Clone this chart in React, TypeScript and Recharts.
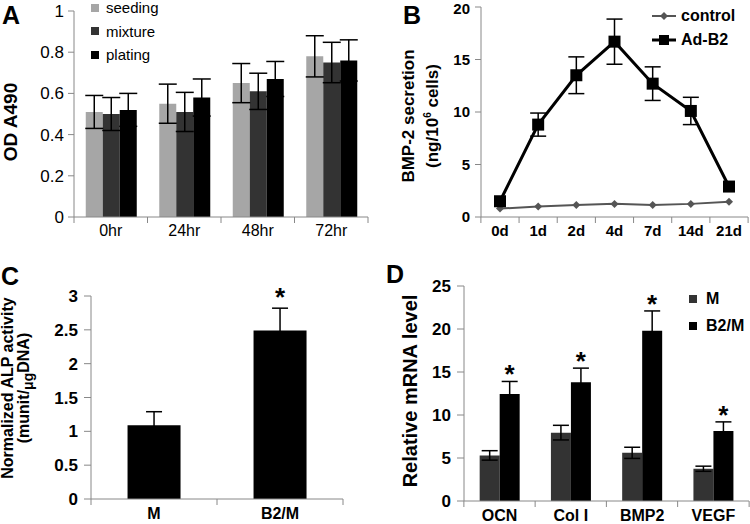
import React from "react";
import {
  BarChart, Bar, LineChart, Line, XAxis, YAxis, ErrorBar, LabelList,
} from "recharts";

// Panel A - cell proliferation
const hoursA = ["0hr", "24hr", "48hr", "72hr"];
const seeding = [0.51, 0.55, 0.65, 0.78];
const seedingErr = [0.08, 0.095, 0.095, 0.1];
const mixture = [0.5, 0.51, 0.61, 0.75];
const mixtureErr = [0.08, 0.095, 0.088, 0.098];
const plating = [0.52, 0.58, 0.67, 0.76];
const platingErr = [0.08, 0.09, 0.085, 0.1];
const ticksA = [0, 0.2, 0.4, 0.6, 0.8, 1];

// Panel B - BMP-2 secretion
const daysB = ["0d", "1d", "2d", "4d", "7d", "14d", "21d"];
const control = [0.8, 1.0, 1.15, 1.25, 1.15, 1.25, 1.45];
const adB2 = [1.5, 8.8, 13.5, 16.7, 12.7, 10.1, 2.9];
const adB2Err = [0, 1.1, 1.75, 2.15, 1.6, 1.3, 0];
const ticksB = [0, 5, 10, 15, 20];

// Panel C - ALP activity
const groupsC = ["M", "B2/M"];
const alp = [1.09, 2.49];
const alpErr = [0.2, 0.33];
const alpStar = ["", "*"];
const ticksC = [0, 0.5, 1, 1.5, 2, 2.5, 3];

// Panel D - relative mRNA
const genesD = ["OCN", "Col I", "BMP2", "VEGF"];
const mLevel = [5.3, 7.95, 5.6, 3.75];
const mErr = [0.55, 0.85, 0.65, 0.3];
const b2mLevel = [12.45, 13.8, 19.8, 8.15];
const b2mErr = [1.45, 1.65, 2.3, 1.05];
const starsD = ["*", "*", "*", "*"];
const ticksD = [0, 5, 10, 15, 20, 25];

const FONT = "'Liberation Sans', Arial, sans-serif";
const AXIS = "#888";

const dataA = hoursA.map((h, i) => ({
  name: h, seeding: seeding[i], seedingErr: seedingErr[i],
  mixture: mixture[i], mixtureErr: mixtureErr[i],
  plating: plating[i], platingErr: platingErr[i],
}));
const dataB = daysB.map((d, i) => ({
  name: d, control: control[i], adB2: adB2[i], adB2Err: adB2Err[i],
}));
const dataC = groupsC.map((g, i) => ({ name: g, alp: alp[i], alpErr: alpErr[i], star: alpStar[i] }));
const dataD = genesD.map((g, i) => ({
  name: g, m: mLevel[i], mErr: mErr[i], b2m: b2mLevel[i], b2mErr: b2mErr[i], star: starsD[i],
}));

// x tick with label at category centre and tick marks at category edges (Excel style)
function EdgeTick(props: any) {
  const { x, y, payload, index, half, count, fontSize, fontWeight, dy } = props;
  return (
    <g>
      <line x1={x - half} x2={x - half} y1={y} y2={y + 6} stroke={AXIS} />
      {index === count - 1 && <line x1={x + half} x2={x + half} y1={y} y2={y + 6} stroke={AXIS} />}
      <text x={x} y={y + dy} textAnchor="middle" fontSize={fontSize} fontWeight={fontWeight}
        fontFamily={FONT} fill="#000">{payload.value}</text>
    </g>
  );
}

function Star(errs: number[], vals: number[], gap: number) {
  return (props: any) => {
    const { x, y, width, height, index, value } = props;
    if (!value) return null;
    const errPx = (errs[index] * height) / vals[index];
    return (
      <text x={x + width / 2} y={y - errPx - gap} textAnchor="middle" fontSize={26}
        fontWeight="bold" fontFamily={FONT} fill="#000">{value}</text>
    );
  };
}

const panelLetter = (t: string, left: number, top: number) => (
  <div style={{ position: "absolute", left, top, fontSize: 25, fontWeight: "bold", fontFamily: FONT, lineHeight: "30px" }}>{t}</div>
);

const vLabel = (lines: React.ReactNode[], cx: number, cy: number, size: number, lh: number) => (
  <div style={{
    position: "absolute", left: cx - 150, top: cy - 40, width: 300, height: 80,
    display: "flex", flexDirection: "column", alignItems: "center", justifyContent: "center",
    transform: "rotate(-90deg)", fontFamily: FONT, fontWeight: "bold", fontSize: size, lineHeight: `${lh}px`,
    whiteSpace: "nowrap",
  }}>
    {lines.map((l, i) => <div key={i}>{l}</div>)}
  </div>
);

function LegendA() {
  const items = [["seeding", "#a6a6a6"], ["mixture", "#333333"], ["plating", "#000000"]];
  return (
    <div style={{ position: "absolute", left: 91, top: -4, fontFamily: FONT, fontSize: 15 }}>
      {items.map(([n, c]) => (
        <div key={n} style={{ display: "flex", alignItems: "center", height: 23.5 }}>
          <span style={{ width: 8, height: 8, background: c, marginRight: 7, display: "inline-block" }} />
          {n}
        </div>
      ))}
    </div>
  );
}

function LegendB() {
  return (
    <div style={{ position: "absolute", left: 651, top: 4, fontFamily: FONT, fontSize: 16, fontWeight: "bold" }}>
      <div style={{ display: "flex", alignItems: "center", height: 24 }}>
        <svg width={26} height={12} style={{ marginRight: 4 }}>
          <line x1={1} x2={25} y1={6} y2={6} stroke="#555" strokeWidth={2} />
          <polygon points="13,2 17,6 13,10 9,6" fill="#555" />
        </svg>
        control
      </div>
      <div style={{ display: "flex", alignItems: "center", height: 24 }}>
        <svg width={26} height={12} style={{ marginRight: 4 }}>
          <line x1={1} x2={25} y1={6} y2={6} stroke="#000" strokeWidth={3} />
          <rect x={8} y={1} width={10} height={10} fill="#000" />
        </svg>
        Ad-B2
      </div>
    </div>
  );
}

function LegendD() {
  const items = [["M", "#333333"], ["B2/M", "#000000"]];
  return (
    <div style={{ position: "absolute", left: 689, top: 285, fontFamily: FONT, fontSize: 16, fontWeight: "bold" }}>
      {items.map(([n, c]) => (
        <div key={n} style={{ display: "flex", alignItems: "center", height: 27 }}>
          <span style={{ width: 8, height: 8, background: c, marginRight: 9, display: "inline-block" }} />
          {n}
        </div>
      ))}
    </div>
  );
}

const diamond = (props: any) => {
  const { cx, cy, index } = props;
  return <polygon key={`d${index}`} points={`${cx},${cy - 4} ${cx + 4},${cy} ${cx},${cy + 4} ${cx - 4},${cy}`} fill="#555" />;
};
const square = (props: any) => {
  const { cx, cy, index } = props;
  return <rect key={`s${index}`} x={cx - 6} y={cy - 6} width={12} height={12} fill="#000" />;
};

export default function App() {
  const yTick = (size: number, weight: string) => ({ fontSize: size, fontWeight: weight, fontFamily: FONT, fill: "#000" });
  return (
    <div style={{ position: "fixed", left: 0, top: 0, width: 750, height: 524, background: "#fff", overflow: "hidden" }}>
      {/* A */}
      <div style={{ position: "absolute", left: 0, top: 0 }}>
        <BarChart width={375} height={262} data={dataA} margin={{ top: 11, right: 7, left: 34, bottom: 15 }}
          barCategoryGap="16%" barGap={0}>
          <XAxis dataKey="name" height={30} stroke={AXIS} tickLine={false} tickSize={0} tickMargin={0}
            interval={0} tick={<EdgeTick half={36.75} count={4} fontSize={16} fontWeight="normal" dy={19} />} />
          <YAxis width={40} domain={[0, 1]} ticks={ticksA} stroke={AXIS} tickSize={6} tickMargin={4}
            tick={yTick(17, "normal")} />
          <Bar dataKey="seeding" fill="#a6a6a6" isAnimationActive={false}>
            <ErrorBar dataKey="seedingErr" width={9} stroke="#000" strokeWidth={1.5} />
          </Bar>
          <Bar dataKey="mixture" fill="#333333" isAnimationActive={false}>
            <ErrorBar dataKey="mixtureErr" width={9} stroke="#000" strokeWidth={1.5} />
          </Bar>
          <Bar dataKey="plating" fill="#000000" isAnimationActive={false}>
            <ErrorBar dataKey="platingErr" width={9} stroke="#000" strokeWidth={1.5} />
          </Bar>
        </BarChart>
      </div>
      <LegendA />
      {vLabel(["OD A490"], 11, 122, 19, 20)}
      {panelLetter("A", 2, 0)}

      {/* B */}
      <div style={{ position: "absolute", left: 375, top: 0 }}>
        <LineChart width={375} height={262} data={dataB} margin={{ top: 7, right: 2, left: 66, bottom: 15 }}>
          <XAxis dataKey="name" height={30} stroke={AXIS} tickLine={false} tickSize={0} tickMargin={0}
            interval={0} padding={{ left: 19, right: 19 }}
            tick={<EdgeTick half={19.1} count={7} fontSize={15} fontWeight="bold" dy={19} />} />
          <YAxis width={40} domain={[0, 20]} ticks={ticksB} stroke={AXIS} tickSize={6} tickMargin={5}
            tick={yTick(15, "bold")} />
          <Line dataKey="control" stroke="#555" strokeWidth={2} dot={diamond} isAnimationActive={false} />
          <Line dataKey="adB2" stroke="#000" strokeWidth={3} dot={square} isAnimationActive={false}>
            <ErrorBar dataKey="adB2Err" width={8} stroke="#000" strokeWidth={1.5} />
          </Line>
        </LineChart>
      </div>
      <LegendB />
      {vLabel(["BMP-2 secretion", <span>(ng/10<sup style={{ fontSize: 10 }}>6</sup> cells)</span>], 421, 116, 17, 20)}
      {panelLetter("B", 403, 0)}

      {/* C */}
      <div style={{ position: "absolute", left: 0, top: 262 }}>
        <BarChart width={375} height={262} data={dataC} margin={{ top: 34, right: 32, left: 46, bottom: 0 }}
          barCategoryGap="29%">
          <XAxis dataKey="name" height={25} stroke={AXIS} tickLine={false} tickSize={0} tickMargin={0}
            interval={0} tick={<EdgeTick half={63} count={2} fontSize={16} fontWeight="bold" dy={20} />} />
          <YAxis width={45} domain={[0, 3]} ticks={ticksC} stroke={AXIS} tickSize={7} tickMargin={6}
            tick={yTick(17, "bold")} />
          <Bar dataKey="alp" fill="#000" isAnimationActive={false}>
            <ErrorBar dataKey="alpErr" width={8} stroke="#000" strokeWidth={1.5} />
            <LabelList dataKey="star" content={Star(alpErr, alp, 2)} />
          </Bar>
        </BarChart>
      </div>
      {vLabel(["Normalized ALP activity", <span>(munit/<sub style={{ fontSize: 14 }}>μg</sub>DNA)</span>], 18, 388, 16, 16)}
      {panelLetter("C", 1, 261)}

      {/* D */}
      <div style={{ position: "absolute", left: 375, top: 262 }}>
        <BarChart width={375} height={262} data={dataD} margin={{ top: 24, right: 1, left: 47, bottom: 0 }}
          barCategoryGap="22%" barGap={0}>
          <XAxis dataKey="name" height={23} stroke={AXIS} tickLine={false} tickSize={0} tickMargin={0}
            interval={0} tick={<EdgeTick half={35.75} count={4} fontSize={16} fontWeight="bold" dy={20} />} />
          <YAxis width={42} domain={[0, 25]} ticks={ticksD} stroke={AXIS} tickSize={7} tickMargin={6}
            tick={yTick(17, "bold")} />
          <Bar dataKey="m" fill="#333333" isAnimationActive={false}>
            <ErrorBar dataKey="mErr" width={8} stroke="#000" strokeWidth={1.5} />
          </Bar>
          <Bar dataKey="b2m" fill="#000" isAnimationActive={false}>
            <ErrorBar dataKey="b2mErr" width={8} stroke="#000" strokeWidth={1.5} />
            <LabelList dataKey="star" content={Star(b2mErr, b2mLevel, -2)} />
          </Bar>
        </BarChart>
      </div>
      <LegendD />
      {vLabel(["Relative mRNA level"], 410, 391, 20, 22)}
      {panelLetter("D", 386, 259)}
    </div>
  );
}
